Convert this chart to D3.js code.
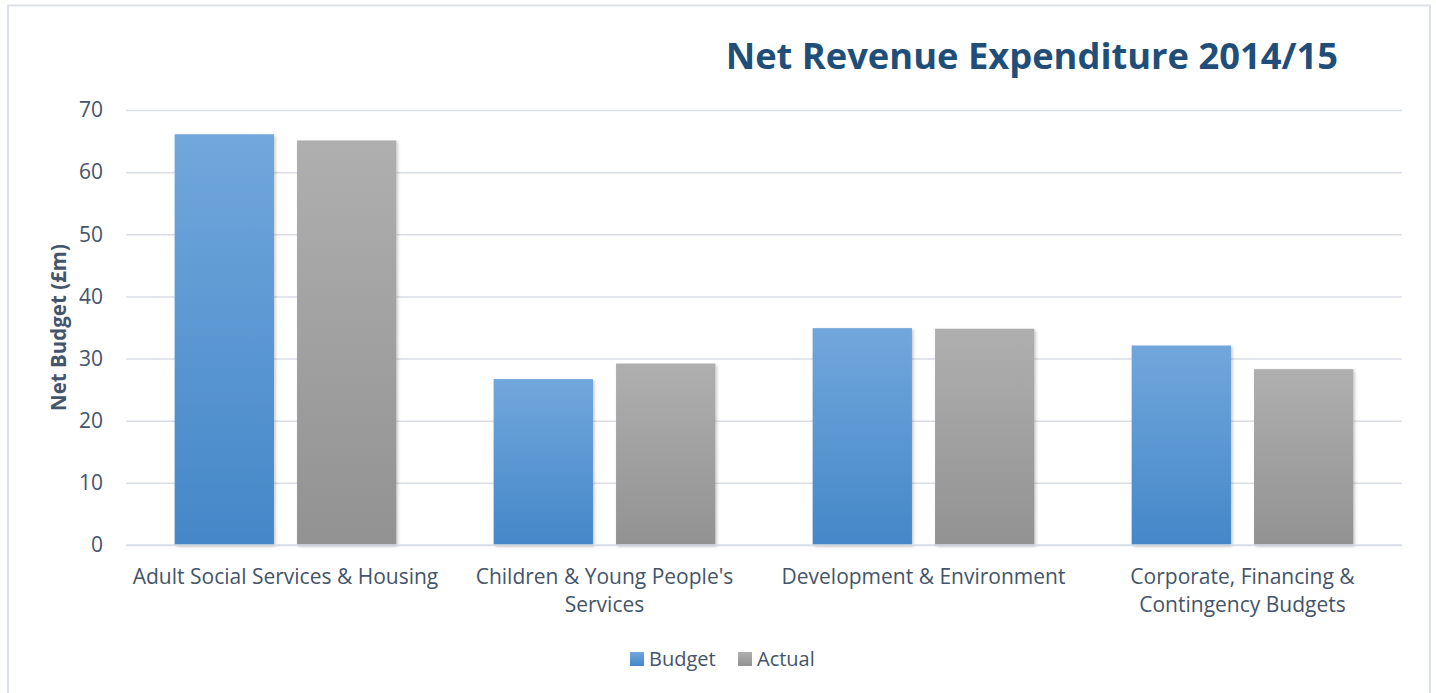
<!DOCTYPE html>
<html>
<head>
<meta charset="utf-8">
<script src="https://cdn.jsdelivr.net/npm/d3@7"></script>
<style>
  html, body { margin: 0; padding: 0; background: #fff; }
  svg { display: block; font-family: "Open Sans", "Noto Sans", sans-serif; }
</style>
</head>
<body>
<svg id="chart" width="1436" height="693"></svg>
<script>
// Net revenue expenditure by directorate, £m
const categories = [
  ["Adult Social Services & Housing"],
  ["Children & Young People's", "Services"],
  ["Development & Environment"],
  ["Corporate, Financing &", "Contingency Budgets"]
];
const seriesNames = ["Budget", "Actual"];
const budget = [66.1, 26.7, 34.9, 32.1];
const actual = [65.1, 29.2, 34.8, 28.3];
const yTicks = [0, 10, 20, 30, 40, 50, 60, 70];

const svg = d3.select("#chart");
const W = 1436, H = 693;
const margin = { left: 126, right: 34, top: 110, bottom: 148 };
const plotW = W - margin.left - margin.right;
const plotH = H - margin.top - margin.bottom;
const textColor = "#44546A";

// chart frame
svg.append("rect")
  .attr("x", 8).attr("y", 5.5)
  .attr("width", 1422).attr("height", 700)
  .attr("fill", "none")
  .attr("stroke", "#DCE1E8")
  .attr("stroke-width", 2);

// gradients for bar fills
const defs = svg.append("defs");
const grads = [
  { id: "gBudget", top: "#71A7DC", bottom: "#4487C8" },
  { id: "gActual", top: "#AFAFAF", bottom: "#929292" }
];
grads.forEach(g => {
  const lg = defs.append("linearGradient")
    .attr("id", g.id).attr("x1", 0).attr("y1", 0).attr("x2", 0).attr("y2", 1);
  lg.append("stop").attr("offset", "0%").attr("stop-color", g.top);
  lg.append("stop").attr("offset", "100%").attr("stop-color", g.bottom);
});
const shadow = defs.append("filter").attr("id", "shadow")
  .attr("x", "-10%").attr("y", "-10%").attr("width", "130%").attr("height", "130%");
shadow.append("feDropShadow")
  .attr("dx", 1.5).attr("dy", 1.5).attr("stdDeviation", 1.5)
  .attr("flood-color", "#000").attr("flood-opacity", 0.22);

const g = svg.append("g").attr("transform", `translate(${margin.left},${margin.top})`);

const x0 = d3.scaleBand()
  .domain(d3.range(categories.length))
  .range([0, plotW])
  .paddingInner(0.305)
  .paddingOuter(0.1525);
const x1 = d3.scaleBand()
  .domain(seriesNames)
  .range([0, x0.bandwidth()])
  .paddingInner(0.1885);
const y = d3.scaleLinear().domain([0, 70]).range([plotH, 0]);

// gridlines
const yAxis = d3.axisLeft(y).tickValues(yTicks).tickSize(-plotW).tickPadding(23);
const ya = g.append("g").call(yAxis);
ya.select(".domain").remove();
ya.selectAll(".tick line").attr("stroke", "#D9DEE6").attr("stroke-width", 1.5);
ya.selectAll(".tick text")
  .attr("fill", textColor)
  .style("font-family", "'Open Sans', sans-serif")
  .style("font-size", "21px");

// bars
const values = { Budget: budget, Actual: actual };
const fills = { Budget: "url(#gBudget)", Actual: "url(#gActual)" };
const groups = g.selectAll(".grp").data(categories.map((c, i) => i))
  .join("g")
  .attr("transform", i => `translate(${x0(i)},0)`);
groups.selectAll("rect")
  .data(i => seriesNames.map(s => ({ s, v: values[s][i] })))
  .join("rect")
  .attr("x", d => x1(d.s))
  .attr("y", d => y(d.v))
  .attr("width", x1.bandwidth())
  .attr("height", d => y(0) - y(d.v))
  .attr("fill", d => fills[d.s])
  .attr("filter", "url(#shadow)");

// baseline
g.append("line")
  .attr("x1", 0).attr("x2", plotW)
  .attr("y1", y(0)).attr("y2", y(0))
  .attr("stroke", "#D9DEE6").attr("stroke-width", 1.5);

// category labels
const xl = g.append("g");
categories.forEach((lines, i) => {
  const t = xl.append("text")
    .attr("x", x0(i) + x0.bandwidth() / 2)
    .attr("y", plotH + 39)
    .attr("text-anchor", "middle")
    .attr("fill", textColor)
    .style("font-size", "21px");
  lines.forEach((ln, k) => {
    t.append("tspan")
      .attr("x", x0(i) + x0.bandwidth() / 2)
      .attr("dy", k === 0 ? 0 : 28)
      .text(ln);
  });
});

// y-axis title
svg.append("text")
  .attr("transform", `translate(66,${margin.top + plotH / 2}) rotate(-90)`)
  .attr("text-anchor", "middle")
  .attr("fill", textColor)
  .style("font-size", "20.5px")
  .style("font-weight", "bold")
  .text("Net Budget (£m)");

// title
svg.append("text")
  .attr("x", 1338)
  .attr("y", 69)
  .attr("text-anchor", "end")
  .attr("fill", "#1F4E79")
  .style("font-size", "36.3px")
  .style("font-weight", "bold")
  .text("Net Revenue Expenditure 2014/15");

// legend
const legendData = [
  { name: "Budget", fill: "url(#gBudget)", x: 630 },
  { name: "Actual", fill: "url(#gActual)", x: 738 }
];
const lg = svg.append("g");
legendData.forEach(d => {
  lg.append("rect")
    .attr("x", d.x).attr("y", 652)
    .attr("width", 14).attr("height", 14)
    .attr("fill", d.fill);
  lg.append("text")
    .attr("x", d.x + 19).attr("y", 666)
    .attr("fill", textColor)
    .style("font-size", "20px")
    .text(d.name);
});
</script>
</body>
</html>
